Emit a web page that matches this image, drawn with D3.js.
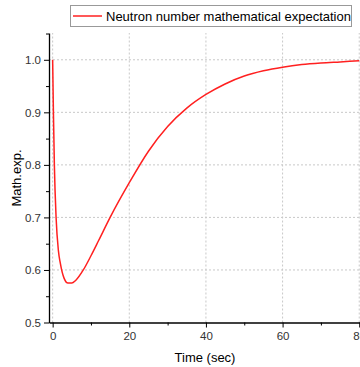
<!DOCTYPE html>
<html>
<head>
<meta charset="utf-8">
<script src="https://cdn.jsdelivr.net/npm/d3@7"></script>
<style>
    body { margin: 0; background: #fff; }
    text { font-family: "Liberation Sans", Arial, sans-serif; }
</style>
</head>
<body>
<div id="chart"></div>
<script>
// curve
const timeSec = [0, 0.2, 0.45, 0.9, 1.5, 2, 3, 4, 5, 6, 8, 10, 12, 15, 20, 25, 30, 35, 40, 45, 50, 55, 60, 65, 70, 75, 80];
const mathExp = [1.0, 0.9, 0.8, 0.7, 0.637, 0.613, 0.584, 0.575, 0.575, 0.58, 0.6, 0.627, 0.656, 0.7, 0.766, 0.826, 0.873, 0.908, 0.934, 0.954, 0.969, 0.979, 0.986, 0.991, 0.994, 0.996, 0.998];
const xTicks = [0, 20, 40, 60, 80];
const xMinor = [10, 30, 50, 70];
const yTicks = [0.5, 0.6, 0.7, 0.8, 0.9, 1.0];
const yMinor = [0.55, 0.65, 0.75, 0.85, 0.95, 1.05];
const seriesName = "Neutron number mathematical expectation";

const width = 360, height = 367;
const margin = { top: 33, right: 0, bottom: 45, left: 49 };

const svg = d3.select("#chart").append("svg")
    .attr("width", width)
    .attr("height", height);

const x = d3.scaleLinear().domain([-0.95, 80.2]).range([margin.left, width - margin.right]);
const y = d3.scaleLinear().domain([0.5, 1.051]).range([height - margin.bottom + 0.5, margin.top]);

// grid
const grid = svg.append("g").attr("stroke", "#c8c8c8").attr("stroke-dasharray", "2,2");
grid.selectAll(".gx").data(xTicks).join("line")
    .attr("x1", d => x(d)).attr("x2", d => x(d))
    .attr("y1", y.range()[0]).attr("y2", y.range()[1]);
grid.selectAll(".gy").data(yTicks.slice(1)).join("line")
    .attr("x1", x.range()[0]).attr("x2", x.range()[1])
    .attr("y1", d => y(d)).attr("y2", d => y(d));

// minor ticks
svg.append("g")
    .attr("transform", `translate(0, ${y.range()[0]})`)
    .call(d3.axisBottom(x).tickValues(xMinor).tickSize(3).tickFormat(""))
    .call(g => g.select(".domain").remove());
svg.append("g")
    .attr("transform", `translate(${margin.left}, 0)`)
    .call(d3.axisLeft(y).tickValues(yMinor).tickSize(3).tickFormat(""))
    .call(g => g.select(".domain").remove());

// major axes
const xAxis = svg.append("g")
    .attr("transform", `translate(0, ${y.range()[0]})`)
    .call(d3.axisBottom(x).tickValues(xTicks).tickSize(5).tickSizeOuter(0).tickPadding(4));
const yAxis = svg.append("g")
    .attr("transform", `translate(${margin.left}, 0)`)
    .call(d3.axisLeft(y).tickValues(yTicks).tickSize(5).tickSizeOuter(0).tickPadding(3).tickFormat(d3.format(".1f")));

[xAxis, yAxis].forEach(a => {
    a.selectAll("text").style("font-size", "11.5px").attr("fill", "#333");
    a.select(".domain").attr("stroke", "#000").attr("stroke-width", 1.3);
});

// curve
svg.append("path")
    .datum(timeSec.map((t, i) => [t, mathExp[i]]))
    .attr("fill", "none")
    .attr("stroke", "#ff2020")
    .attr("stroke-width", 1.5)
    .attr("d", d3.line().x(d => x(d[0])).y(d => y(d[1])).curve(d3.curveMonotoneX));

// axis titles
svg.append("text")
    .attr("x", 205).attr("y", 362)
    .attr("text-anchor", "middle")
    .style("font-size", "13px")
    .text("Time (sec)");
svg.append("text")
    .attr("transform", "translate(21, 178) rotate(-90)")
    .attr("text-anchor", "middle")
    .style("font-size", "13px")
    .text("Math.exp.");

// legend
const legend = svg.append("g");
legend.append("rect")
    .attr("x", 70.5).attr("y", 5.5).attr("width", 281).attr("height", 21)
    .attr("fill", "#fff").attr("stroke", "#999");
legend.append("line")
    .attr("x1", 73).attr("x2", 102).attr("y1", 16).attr("y2", 16)
    .attr("stroke", "#ff2020").attr("stroke-width", 1.5);
legend.append("text")
    .attr("x", 106).attr("y", 20.5)
    .style("font-size", "13px")
    .text(seriesName);
</script>
</body>
</html>
